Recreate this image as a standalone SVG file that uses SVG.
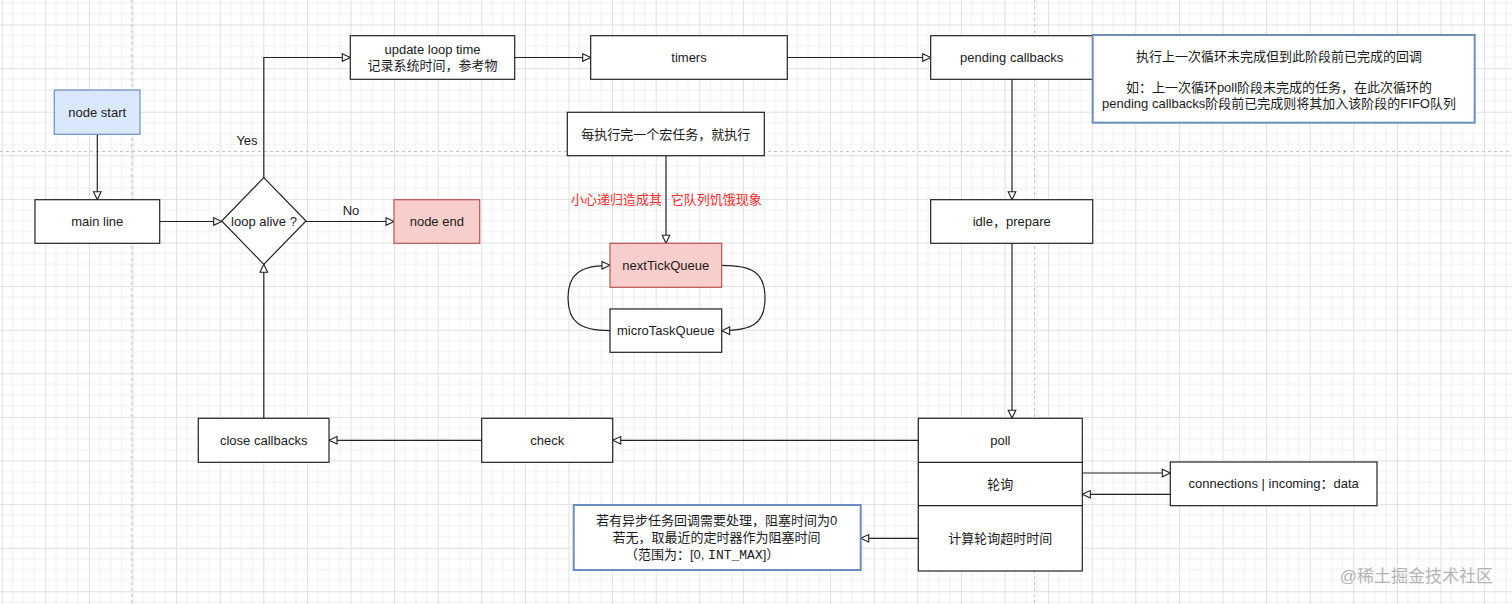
<svg xmlns="http://www.w3.org/2000/svg" width="1512" height="604" viewBox="0 0 1512 604">
<defs>
<pattern id="grid" patternUnits="userSpaceOnUse" x="1.7" y="24.5" width="43.6" height="43.6">
<path d="M10.9,0V43.6M21.8,0V43.6M32.7,0V43.6M0,10.9H43.6M0,21.8H43.6M0,32.7H43.6" stroke="#f0f0f0" stroke-width="1" fill="none"/>
<path d="M0.5,0V43.6M0,0.5H43.6" stroke="#e0e0e0" stroke-width="1" fill="none"/>
</pattern>
<marker id="arr" markerUnits="userSpaceOnUse" markerWidth="12" markerHeight="12" refX="9" refY="5" orient="auto">
<path d="M1,1.2 L9,5 L1,8.8 Z" fill="#fff" stroke="#222" stroke-width="1.1"/>
</marker>
<style>
.box{fill:#fff;stroke:#222;stroke-width:1.2}
.blue{fill:#dae8fc;stroke:#6c8ebf;stroke-width:1.2}
.red{fill:#f8cecc;stroke:#b85450;stroke-width:1.2}
.note{fill:#fff;stroke:#6c8ebf;stroke-width:2}
text{font-family:"Liberation Sans","Noto Sans CJK SC",sans-serif;font-size:13px;fill:#1a1a1a}
.c{text-anchor:middle}
.edge{fill:none;stroke:#222;stroke-width:1.2;marker-end:url(#arr)}
.pb{stroke:#c4c4c4;stroke-width:1;stroke-dasharray:3 3;fill:none}
</style>
</defs>
<rect width="1512" height="604" fill="#fff"/>
<rect width="1512" height="604" fill="url(#grid)"/>
<path class="pb" d="M131.7,0V604M1034.5,0V604M0,151.5H1512"/>

<g id="connectors">
<path class="edge" d="M97.3,134.3V199.7"/>
<path class="edge" d="M159.7,221.5H221.7"/>
<path class="edge" d="M306,221.5H394"/>
<path class="edge" d="M263.8,177.7V57.5H350.3"/>
<path class="edge" d="M514.7,57.5H590.7"/>
<path class="edge" d="M787.3,57.5H930.7"/>
<path class="edge" d="M1012,79.3V199.7"/>
<path class="edge" d="M1012,243.3V418.3"/>
<path class="edge" d="M918.3,440.3H612.7"/>
<path class="edge" d="M481.7,440.3H329"/>
<path class="edge" d="M263.8,418.3V264.3"/>
<path class="edge" d="M666,155.7V243.3"/>
<path class="edge" d="M721.7,265.3C752,265.3 765,272 765,298C765,324 752,330.7 721.7,330.7"/>
<path class="edge" d="M610,330.7C580,330.7 568,322 568,298C568,274 580,265.3 610,265.3"/>
<path class="edge" d="M1082.3,473H1170.3"/>
<path class="edge" d="M1170.3,494.3H1082.3"/>
<path class="edge" d="M918.3,538.3H860.7"/>
<text class="c" x="247" y="144.5">Yes</text>
<text class="c" x="351" y="214.5">No</text>
<text x="571" y="203.5" style="fill:#ff2a2a">小心递归造成其<tspan x="670.7">它队列饥饿现象</tspan></text>
</g>

<g id="node-start"><rect class="blue" x="54.3" y="90" width="85.7" height="44.3"/><text class="c" x="97.2" y="116.5">node start</text></g>
<g id="main-line"><rect class="box" x="35" y="199.7" width="124.7" height="43.6"/><text class="c" x="97.3" y="226">main line</text></g>
<g id="loop-alive"><path class="box" d="M263.8,177.7L306,221L263.8,264.3L221.7,221Z"/><text class="c" x="264" y="225.5">loop alive ?</text></g>
<g id="node-end"><rect class="red" x="394" y="199.7" width="85.7" height="43.6"/><text class="c" x="436.8" y="226">node end</text></g>
<g id="update-loop-time"><rect class="box" x="350.3" y="35.7" width="164.4" height="43.6"/><text class="c" x="432.5" y="53.5">update loop time</text><text class="c" x="432.5" y="69.5">记录系统时间，参考物</text></g>
<g id="timers"><rect class="box" x="590.7" y="35.7" width="196.6" height="43.6"/><text class="c" x="689" y="62">timers</text></g>
<g id="pending-callbacks"><rect class="box" x="930.7" y="35.7" width="162" height="43.6"/><text class="c" x="1011.7" y="62">pending callbacks</text></g>
<g id="pending-note"><rect class="note" x="1092.7" y="35" width="382" height="87.7"/><text class="c" x="1279" y="60.5">执行上一次循环未完成但到此阶段前已完成的回调</text><text class="c" x="1279" y="91.5">如：上一次循环poll阶段未完成的任务，在此次循环的</text><text class="c" x="1279" y="107.5">pending callbacks阶段前已完成则将其加入该阶段的FIFO队列</text></g>
<g id="idle-prepare"><rect class="box" x="930.7" y="199.7" width="162" height="43.6"/><text class="c" x="1011.7" y="226">idle，prepare</text></g>
<g id="macro-task"><rect class="box" x="567.3" y="112.3" width="197" height="43.4"/><text class="c" x="665.8" y="138.5">每执行完一个宏任务，就执行</text></g>
<g id="next-tick-queue"><rect class="red" x="610" y="243.3" width="111.7" height="44"/><text class="c" x="665.8" y="269.8">nextTickQueue</text></g>
<g id="micro-task-queue"><rect class="box" x="610" y="309" width="111.7" height="43.3"/><text class="c" x="665.8" y="335.3">microTaskQueue</text></g>
<g id="poll"><rect class="box" x="918.3" y="418.3" width="164" height="152.7"/><path class="box" d="M918.3,462.3H1082.3M918.3,505.7H1082.3"/><text class="c" x="1000.3" y="444.8">poll</text><text class="c" x="1000.3" y="488.5">轮询</text><text class="c" x="1000.3" y="542.8">计算轮询超时时间</text></g>
<g id="connections"><rect class="box" x="1170.3" y="462" width="206.7" height="43.7"/><text class="c" x="1273.7" y="488.3">connections | incoming：data</text></g>
<g id="check"><rect class="box" x="481.7" y="418.3" width="131" height="44"/><text class="c" x="547.2" y="444.8">check</text></g>
<g id="close-callbacks"><rect class="box" x="198.3" y="418.3" width="130.7" height="44"/><text class="c" x="263.7" y="444.8">close callbacks</text></g>
<g id="timeout-note"><rect class="note" x="573.7" y="505" width="287" height="65"/><text class="c" x="716.5" y="525.2">若有异步任务回调需要处理，阻塞时间为0</text><text class="c" x="716.5" y="541.5">若无，取最近的定时器作为阻塞时间</text><text x="625" y="558.5">（范围为：[0, <tspan style="font-family:'Liberation Mono',monospace">INT_MAX</tspan>]）</text></g>
<text x="1493" y="582" style="text-anchor:end;font-size:17px;fill:#b4b4b4">@稀土掘金技术社区</text>
</svg>
